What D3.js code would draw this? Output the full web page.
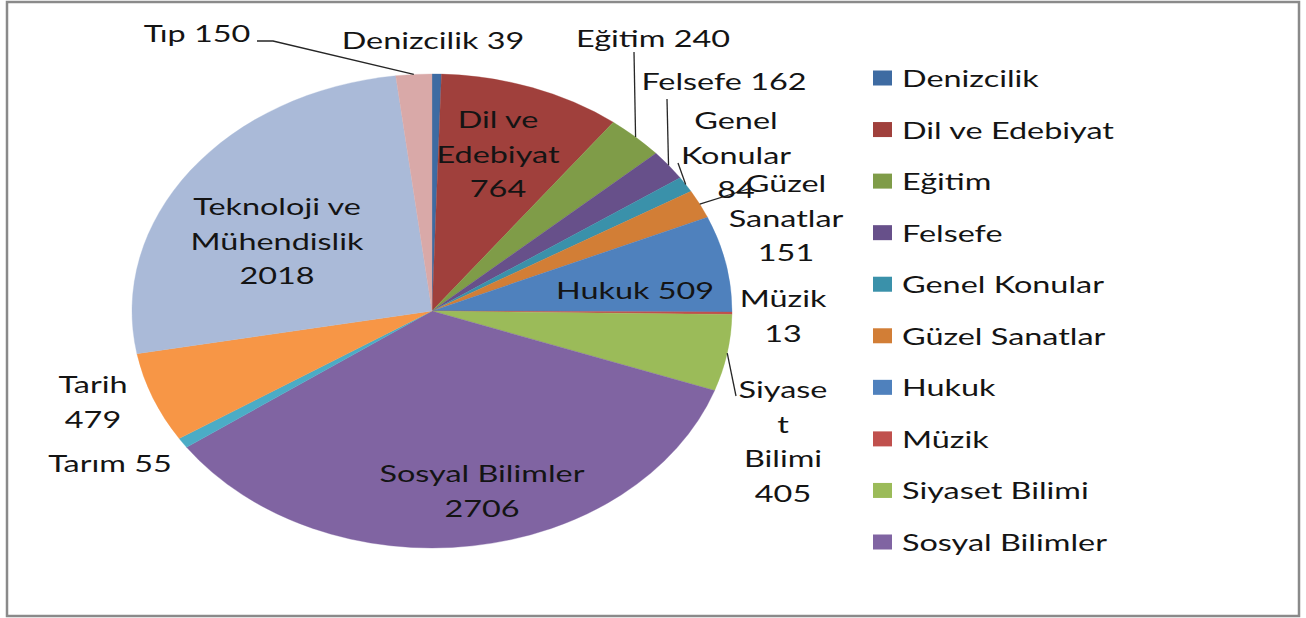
<!DOCTYPE html>
<html>
<head>
<meta charset="utf-8">
<script src="https://cdn.jsdelivr.net/npm/d3@7"></script>
<style>
  body { margin: 0; background: #fff; }
  text { font-family: Lato, "Open Sans", sans-serif; fill: #141414; }
</style>
</head>
<body>
<div id="chart"></div>
<script>
// data
var categories = ["Denizcilik", "Dil ve Edebiyat", "Eğitim", "Felsefe", "Genel Konular",
    "Güzel Sanatlar", "Hukuk", "Müzik", "Siyaset Bilimi", "Sosyal Bilimler",
    "Tarım", "Tarih", "Teknoloji ve Mühendislik", "Tıp"];
var counts = [39, 764, 240, 162, 84, 151, 509, 13, 405, 2706, 55, 479, 2018, 150];
var colors = ["#3E6BA2", "#A0403C", "#7F9C48", "#67508A", "#3A91AA", "#D27E36",
    "#4F81BD", "#C0504D", "#9BBB59", "#8064A2", "#4BACC6", "#F79646", "#AABAD8", "#D9A9A8"];
// legend only shows the first ten entries (the rest is cut off)
var legendCount = 10;

// label layout: text lines, centre x, first baseline y, leader end (optional)
var labelLayout = [
    {lines: ["Denizcilik 39"], x: 433, y: 49},
    {lines: ["Dil ve", "Edebiyat", "764"], x: 498, y: 128},
    {lines: ["Eğitim 240"], x: 653, y: 47, lead: [[634, 52]]},
    {lines: ["Felsefe 162"], x: 724, y: 90, lead: [[667, 99]]},
    {lines: ["Genel", "Konular", "84"], x: 736, y: 129, lead: [[678, 163]]},
    {lines: ["Güzel", "Sanatlar", "151"], x: 786, y: 192, lead: [[748, 189]]},
    {lines: ["Hukuk 509"], x: 635, y: 299},
    {lines: ["Müzik", "13"], x: 783, y: 307},
    {lines: ["Siyase", "t", "Bilimi", "405"], x: 783, y: 398, lead: [[736, 396]]},
    {lines: ["Sosyal Bilimler", "2706"], x: 482, y: 482},
    {lines: ["Tarım 55"], x: 110, y: 472},
    {lines: ["Tarih", "479"], x: 93, y: 393},
    {lines: ["Teknoloji ve", "Mühendislik", "2018"], x: 277, y: 215},
    {lines: ["Tıp 150"], x: 197, y: 42, lead: [[257, 41], [273, 41]]}
];

var W = 1306, H = 618;
var cx = 432, cy = 311, ry = 237, rx = 300;
var sx = rx / ry;          // the whole picture is stretched sideways
var fontSize = 24, textSx = 1.35, lineH = 34.5;

var svg = d3.select("#chart").append("svg")
    .attr("width", W)
    .attr("height", H);

// outer frame
svg.append("rect")
    .attr("x", 7).attr("y", 2)
    .attr("width", 1292).attr("height", 614)
    .attr("fill", "#fff")
    .attr("stroke", "#8a8a8a")
    .attr("stroke-width", 2.5);

var pie = d3.pie().sort(null).value(function(d) { return d; });
var arcs = pie(counts);
var arc = d3.arc().innerRadius(0).outerRadius(ry);

var gPie = svg.append("g")
    .attr("transform", "translate(" + cx + "," + cy + ") scale(" + sx + ",1)");

gPie.selectAll("path")
    .data(arcs)
  .enter().append("path")
    .attr("d", arc)
    .attr("fill", function(d, i) { return colors[i]; })
    .attr("stroke", function(d, i) { return colors[i]; })
    .attr("stroke-width", 0.3);

// point on the (stretched) pie edge at the middle of a slice
function edgePoint(d) {
    var a = (d.startAngle + d.endAngle) / 2;
    return [cx + Math.sin(a) * ry * sx, cy - Math.cos(a) * ry];
}

// leader lines
labelLayout.forEach(function(l, i) {
    if (!l.lead) return;
    var pts = l.lead.concat([edgePoint(arcs[i])]);
    svg.append("path")
        .attr("d", d3.line()(pts))
        .attr("fill", "none")
        .attr("stroke", "#262626")
        .attr("stroke-width", 1.3);
});

// data labels
labelLayout.forEach(function(l) {
    l.lines.forEach(function(t, j) {
        svg.append("text")
            .attr("transform", "translate(" + l.x + "," + (l.y + j * lineH) + ") scale(" + textSx + ",1)")
            .attr("text-anchor", "middle")
            .style("font-size", fontSize + "px")
            .text(t);
    });
});

// legend
var legendY = d3.scalePoint()
    .domain(d3.range(legendCount))
    .range([78, 542]);

var legend = svg.append("g").selectAll("g")
    .data(categories.slice(0, legendCount))
  .enter().append("g")
    .attr("transform", function(d, i) { return "translate(873," + legendY(i) + ")"; });

legend.append("rect")
    .attr("x", 0).attr("y", -7.5)
    .attr("width", 19).attr("height", 15)
    .attr("fill", function(d, i) { return colors[i]; });

legend.append("text")
    .attr("transform", "translate(29,9) scale(" + textSx + ",1)")
    .style("font-size", fontSize + "px")
    .text(function(d) { return d; });
</script>
</body>
</html>
